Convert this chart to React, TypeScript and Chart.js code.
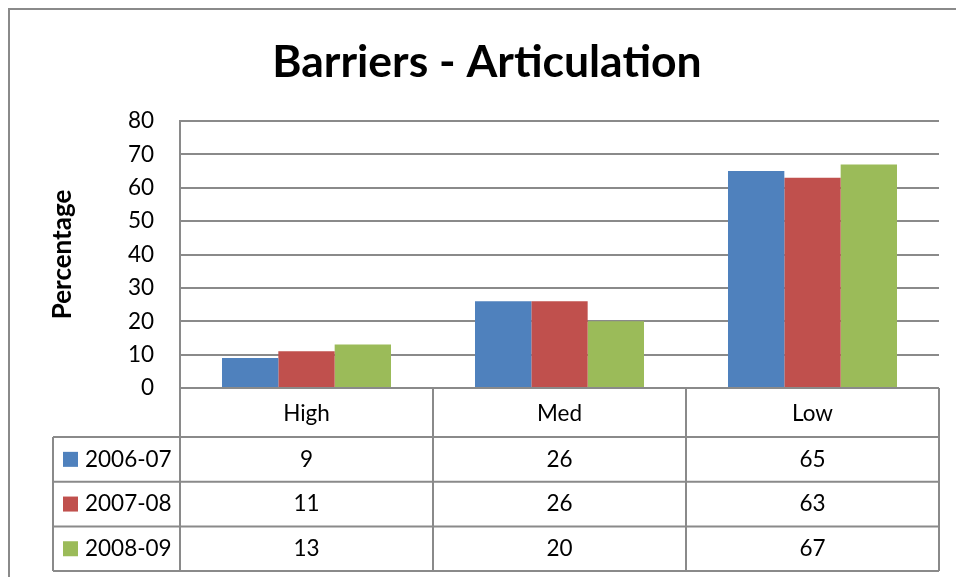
import React, { useEffect, useRef } from "react";
import { Chart, registerables } from "chart.js";

Chart.register(...registerables);

// Chart content
const chartTitle = "Barriers - Articulation";
const yAxisTitle = "Percentage";
const categories = ["High", "Med", "Low"];
const seriesNames = ["2006-07", "2007-08", "2008-09"];
const values2006 = [9, 26, 65];
const values2007 = [11, 26, 63];
const values2008 = [13, 20, 67];
const yMin = 0;
const yMax = 80;
const yStep = 10;

const seriesValues = [values2006, values2007, values2008];
const seriesColors = ["#4F81BD", "#C0504D", "#9BBB59"];

const FONT = "Lato, 'Open Sans', sans-serif";
const LINE = "#8a8a8a";

// Frame, title, axis title and the data table beneath the plot
const decorPlugin = {
  id: "decor",
  beforeDraw(chart: any) {
    const { ctx, width, height } = chart;
    ctx.save();
    ctx.fillStyle = "#ffffff";
    ctx.fillRect(0, 0, width, height);
    ctx.strokeStyle = LINE;
    ctx.lineWidth = 2;
    ctx.beginPath();
    ctx.moveTo(9, height);
    ctx.lineTo(9, 9);
    ctx.lineTo(width, 9);
    ctx.stroke();
    ctx.restore();
  },
  afterDraw(chart: any) {
    const { ctx, chartArea } = chart;
    const xScale = chart.scales.x;
    ctx.save();

    // title
    ctx.fillStyle = "#000";
    ctx.font = `bold 44.5px ${FONT}`;
    ctx.textAlign = "center";
    ctx.textBaseline = "alphabetic";
    ctx.fillText(chartTitle, 487, 77);

    // y axis title
    ctx.save();
    ctx.translate(63, (chartArea.top + chartArea.bottom) / 2);
    ctx.rotate(-Math.PI / 2);
    ctx.font = `bold 26px ${FONT}`;
    ctx.textBaseline = "middle";
    ctx.fillText(yAxisTitle, 0, 0);
    ctx.restore();

    // data table
    const headerTop = chartArea.bottom;
    const headerBottom = headerTop + 49;
    const rowH = 44.7;
    const tableBottom = headerBottom + rowH * seriesNames.length;
    const legendLeft = 53;
    const slot = (chartArea.right - chartArea.left) / categories.length;
    const edges = categories.map((_, i) => xScale.getPixelForValue(i) - slot / 2);
    edges.push(chartArea.right);

    ctx.strokeStyle = LINE;
    ctx.lineWidth = 2;
    ctx.beginPath();
    edges.forEach((x) => {
      ctx.moveTo(x, headerTop);
      ctx.lineTo(x, tableBottom);
    });
    ctx.moveTo(legendLeft, headerBottom);
    ctx.lineTo(legendLeft, tableBottom);
    for (let r = 0; r <= seriesNames.length; r++) {
      const y = headerBottom + rowH * r;
      ctx.moveTo(legendLeft, y);
      ctx.lineTo(chartArea.right, y);
    }
    ctx.stroke();

    ctx.font = `22.5px ${FONT}`;
    ctx.textBaseline = "middle";
    ctx.textAlign = "center";
    ctx.fillStyle = "#000";
    categories.forEach((c, i) => {
      ctx.fillText(c, xScale.getPixelForValue(i), (headerTop + headerBottom) / 2 + 1);
    });

    seriesNames.forEach((name, r) => {
      const yMid = headerBottom + rowH * r + rowH / 2;
      ctx.fillStyle = seriesColors[r];
      ctx.fillRect(63, yMid - 7.5, 15, 15);
      ctx.fillStyle = "#000";
      ctx.textAlign = "left";
      ctx.fillText(name, 85, yMid);
      ctx.textAlign = "center";
      seriesValues[r].forEach((v, i) => {
        ctx.fillText(String(v), xScale.getPixelForValue(i), yMid);
      });
    });

    ctx.restore();
  },
};

export default function App() {
  const canvasRef = useRef<HTMLCanvasElement | null>(null);

  useEffect(() => {
    const canvas = canvasRef.current;
    if (!canvas) return;
    const chart = new Chart(canvas, {
      type: "bar",
      data: {
        labels: categories,
        datasets: seriesNames.map((name, i) => ({
          label: name,
          data: seriesValues[i],
          backgroundColor: seriesColors[i],
          borderWidth: 0,
          barPercentage: 1,
          categoryPercentage: 0.668,
        })),
      },
      options: {
        responsive: false,
        animation: false,
        devicePixelRatio: 1,
        layout: { padding: { left: 0, right: 17, top: 121, bottom: 189 } },
        plugins: {
          legend: { display: false },
          title: { display: false },
          tooltip: { enabled: false },
        },
        scales: {
          x: { display: false },
          y: {
            min: yMin,
            max: yMax,
            ticks: {
              stepSize: yStep,
              color: "#000",
              padding: 26,
              font: { family: FONT, size: 22.5 },
            },
            grid: { color: LINE, lineWidth: 2, drawTicks: false },
            border: { display: true, color: LINE, width: 2 },
            afterFit: (scale: any) => {
              scale.width = 180;
            },
          },
        },
      },
      plugins: [decorPlugin],
    });
    return () => chart.destroy();
  }, []);

  return (
    <div style={{ position: "fixed", left: 0, top: 0, width: 956, height: 577, background: "#fff" }}>
      <canvas ref={canvasRef} width={956} height={577} />
    </div>
  );
}
